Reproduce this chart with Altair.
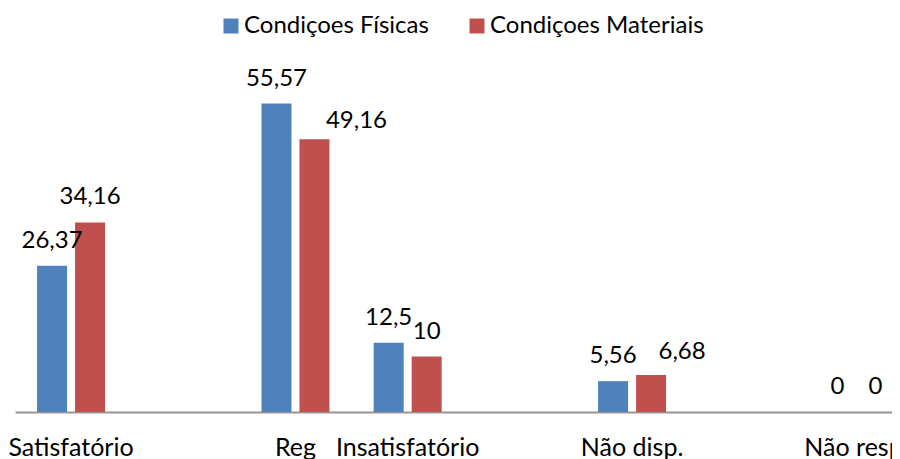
import altair as alt
import pandas as pd

# Category slots (blank slots keep the original uneven spacing)
categories = ["Satisfatório", " ", "Reg", "Insatisfatório", "  ", "Não disp.", "   ", "Não resp."]
data_cats = ["Satisfatório", "Reg", "Insatisfatório", "Não disp.", "Não resp."]
series = ["Condiçoes Físicas", "Condiçoes Materiais"]
fisicas = [26.37, 55.57, 12.5, 5.56, 0]
materiais = [34.16, 49.16, 10, 6.68, 0]
colors = ["#4F81BD", "#C0504D"]

rows = []
for c, f, m in zip(data_cats, fisicas, materiais):
    for s, v in zip(series, (f, m)):
        rows.append({"cat": c, "serie": s, "valor": v,
                     "rotulo": f"{v:g}".replace(".", ",")})
df = pd.DataFrame(rows)

FONT = "Lato"
FS = 24
FS_AXIS = 25
FS_LEG = 24

base = alt.Chart(df).encode(
    x=alt.X(
        "cat:N",
        scale=alt.Scale(domain=categories,
                        paddingInner=0.394, paddingOuter=0.105, align=0.936),
        axis=alt.Axis(title=None, ticks=False, grid=False, labelAngle=0,
                      labelFont=FONT, labelFontSize=FS_AXIS, labelColor="#000000",
                      labelPadding=43, labelBaseline="alphabetic",
                      labelOverlap=False, labelBound=False, labelFlush=False,
                      labelLimit=0,
                      domainColor="#969696", domainWidth=2),
    ),
    xOffset=alt.XOffset("serie:N", scale=alt.Scale(domain=series,
                                                    paddingInner=0.2105,
                                                    paddingOuter=0)),
    y=alt.Y("valor:Q", scale=alt.Scale(domain=[0, 60], nice=False), axis=None),
)

bars = base.mark_bar().encode(
    color=alt.Color(
        "serie:N",
        scale=alt.Scale(domain=series, range=colors),
        legend=alt.Legend(title=None, orient="none", legendX=204, legendY=-65,
                          direction="horizontal", symbolType="square",
                          symbolSize=225, symbolStrokeWidth=0, symbolOpacity=1,
                          labelFont=FONT, labelFontSize=FS_LEG, labelColor="#000000",
                          labelOffset=1, labelLimit=0, columnPadding=36, padding=0),
    )
)

special = {"49,16": (42, -11), "6,68": (31, -16)}
txt_kw = dict(baseline="alphabetic", align="center", font=FONT, fontSize=FS,
              color="#000000")

labels = base.mark_text(dy=-18, **txt_kw).encode(text="rotulo:N").transform_filter(
    " && ".join(f"datum.rotulo != '{k}'" for k in special)
)
layers = [bars, labels]
for k, (dx, dy) in special.items():
    layers.append(
        base.mark_text(dx=dx, dy=dy, **txt_kw).encode(text="rotulo:N")
        .transform_filter(f"datum.rotulo == '{k}'")
    )

chart = alt.layer(*layers).properties(
    width=877, height=333,
    autosize=alt.AutoSizeParams(type="none"),
    padding={"left": 7, "top": 71, "right": 0, "bottom": 48},
).configure_view(stroke=None)

chart.save("out.html", embed_options={"renderer": "svg", "actions": False})
